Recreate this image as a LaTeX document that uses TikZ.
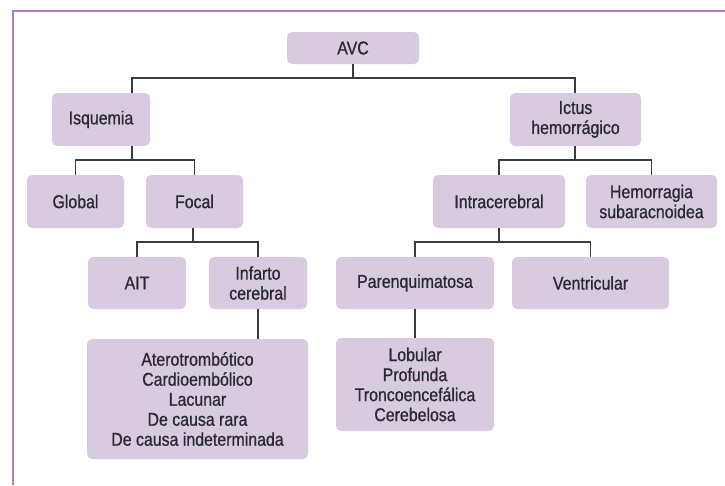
\documentclass[tikz,border=0pt]{standalone}
\usepackage{fontspec}
\setmainfont{Liberation Sans}[FakeStretch=0.86,FakeBold=0.7]
\definecolor{boxfill}{RGB}{217,203,223}
\definecolor{framec}{RGB}{178,127,189}
\definecolor{linec}{RGB}{60,60,60}
\definecolor{textc}{RGB}{40,40,48}
\begin{document}
\begin{tikzpicture}[x=1pt,y=-1pt,
  box/.style={fill=boxfill, rounded corners=5pt, inner sep=0pt, align=center,
    text=textc, font=\fontsize{18.5}{20}\selectfont},
  conn/.style={draw=linec, line width=1.8pt}]
\useasboundingbox (0,0) rectangle (725,485);
\fill[white] (0,0) rectangle (725,485);
\draw[framec, line width=2pt] (12.5,485) -- (12.5,11) -- (725,11);

\node[box, minimum width=132pt, minimum height=32pt] (avc) at (353,48) {AVC};
\node[box, minimum width=98pt, minimum height=53pt] (isq) at (101,119.5) {Isquemia};
\node[box, minimum width=131pt, minimum height=53pt] (ict) at (575.5,119.5) {Ictus\\hemorrágico};
\node[box, minimum width=97pt, minimum height=53pt] (glo) at (75.5,201.5) {Global};
\node[box, minimum width=97pt, minimum height=53pt] (foc) at (194.5,201.5) {Focal};
\node[box, minimum width=132pt, minimum height=53pt] (intra) at (499,201.5) {Intracerebral};
\node[box, minimum width=131pt, minimum height=53pt] (hem) at (651.5,201.5) {Hemorragia\\subaracnoidea};
\node[box, minimum width=98pt, minimum height=52pt] (ait) at (137,283) {AIT};
\node[box, minimum width=98pt, minimum height=52pt] (inf) at (258,283) {Infarto\\cerebral};
\node[box, minimum width=158pt, minimum height=52pt] (par) at (415,283) {Parenquimatosa};
\node[box, minimum width=157pt, minimum height=52pt] (ven) at (590.5,283) {Ventricular};
\node[box, minimum width=221pt, minimum height=120pt] (ate) at (197.5,399)
  {Aterotrombótico\\Cardioembólico\\Lacunar\\De causa rara\\De causa indeterminada};
\node[box, minimum width=158pt, minimum height=93pt] (lob) at (415,384.5)
  {Lobular\\Profunda\\Troncoencefálica\\Cerebelosa};

\coordinate (isqj) at ([xshift=31pt]isq.north);
\coordinate (isqb) at ([xshift=31pt]isq.south);
\coordinate (ictj) at ([xshift=-0.5pt]ict.north);
\coordinate (foc1) at ([xshift=-1.5pt]foc.south);

% AVC level
\draw[conn] (avc.south) -- (avc.south |- 0,78);
\draw[conn] (isqj) |- (ictj |- 0,78) -- (ictj);
% Isquemia level
\draw[conn] (isqb) -- (isqb |- 0,160);
\draw[conn] (glo.north) |- (foc.north |- 0,160) -- (foc.north);
% Ictus level
\draw[conn] (ictj |- ict.south) -- (ictj |- 0,160);
\draw[conn] (intra.north) |- (hem.north |- 0,160) -- (hem.north);
% Focal level
\draw[conn] (foc1) -- (foc1 |- 0,242);
\draw[conn] (ait.north) |- (inf.north |- 0,242) -- (inf.north);
% Intracerebral level
\draw[conn] (intra.south) -- (intra.south |- 0,242);
\draw[conn] (par.north) |- (ven.north |- 0,242) -- (ven.north);
% leaves
\draw[conn] (inf.south) -- (inf.south |- ate.north);
\draw[conn] (par.south) -- (lob.north);
\end{tikzpicture}
\end{document}
